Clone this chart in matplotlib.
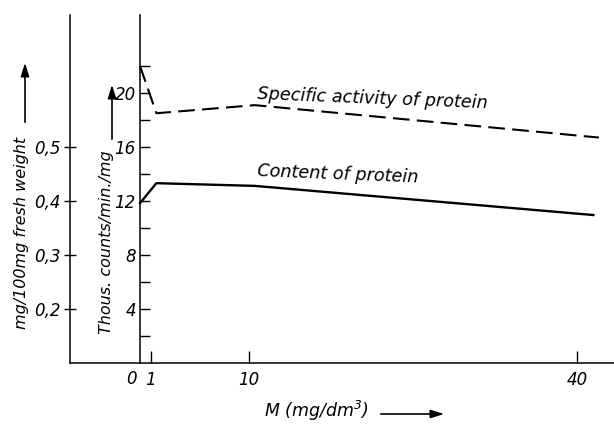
import matplotlib.pyplot as plt
import numpy as np

# data
conc = [0, 1.5, 10.5, 42]                    # M (mg/dm3)
specific_activity = [22.0, 18.5, 19.1, 16.7]  # thous. counts/min/mg
conc_content = [0, 1.5, 10.5, 41.5]
content = [0.396, 0.433, 0.428, 0.374]        # mg/100 mg fresh weight

x_ticks = [1, 10, 40]
count_ticks = [4, 8, 12, 16, 20]
count_minor = [2, 6, 10, 14, 18, 22]
content_ticks = [0.2, 0.3, 0.4, 0.5]

plt.rcParams['font.family'] = 'DejaVu Sans'
plt.rcParams['font.style'] = 'italic'

W, H = 614, 424
fig = plt.figure(figsize=(W / 100, H / 100), dpi=100)

# axes placed in pixels: x=0 at px 140, x=40 at px 577; counts 0 at y 363, 20 at y 93
px_per_x = (577 - 140) / 40
px_per_c = (363 - 93) / 20
left_px = 70
x0, x1 = (left_px - 140) / px_per_x, (614 - 140) / px_per_x
c_top = (363 - 15) / px_per_c
ax = fig.add_axes([left_px / W, 1 - 363 / H, (614 - left_px) / W, (363 - 15) / H])
ax.set_xlim(x0, x1)
ax.set_ylim(0, c_top)

for s in ['top', 'right']:
    ax.spines[s].set_visible(False)
ax.spines['left'].set_position(('data', 0))
for s in ax.spines.values():
    s.set_linewidth(1.1)

ax.set_yticks(count_ticks)
ax.set_yticklabels([str(t) for t in count_ticks], fontsize=12)
ax.set_yticks(count_minor, minor=True)
ax.tick_params(axis='y', which='both', direction='in', length=7, width=1, pad=3)
ax.set_xticks(x_ticks)
ax.set_xticklabels([str(t) for t in x_ticks], fontsize=12)
ax.tick_params(axis='x', direction='in', length=9, width=1, pad=6)
ax.text(-0.25, -0.55, '0', fontsize=12, ha='right', va='top')

# outer axis for protein content
ax2 = ax.twinx()
ax2.set_ylim(0.1, 0.1 + c_top / 40)
for s in ['top', 'right', 'bottom']:
    ax2.spines[s].set_visible(False)
ax2.spines['left'].set_visible(True)
ax2.spines['left'].set_position(('data', x0))
ax2.spines['left'].set_linewidth(1.1)
ax2.yaxis.set_ticks_position('left')
ax2.yaxis.set_label_position('left')
ax2.set_yticks(content_ticks)
ax2.set_yticklabels([f'{t:.1f}'.replace('.', ',') for t in content_ticks], fontsize=12)
ax2.tick_params(axis='y', direction='inout', length=9, width=1, pad=2)

ax.plot(conc, specific_activity, color='black', lw=1.5, ls=(0, (8, 3.5)), clip_on=False)
ax2.plot(conc_content, content, color='black', lw=1.7, clip_on=False)

ax.text(10.7, 18.9, 'Specific activity of protein', fontsize=12.7, rotation=-2.3)
ax.text(10.7, 13.35, 'Content of protein', fontsize=12.7, rotation=-2.3)

# axis titles with arrows (pixel positions from the scan)
fig.text(22 / W, 1 - 233 / H, 'mg/100mg fresh weight', rotation=90, fontsize=11.5,
         ha='center', va='center')
fig.text(106 / W, 1 - 242 / H, 'Thous. counts/min./mg', rotation=90, fontsize=11.5,
         ha='center', va='center')
fig.text(316 / W, 1 - 411 / H, 'M (mg/dm$^3$)', fontsize=12.5, ha='center', va='center')

arrow = dict(arrowstyle='-|>,head_length=0.8,head_width=0.25', color='black', lw=1.2)
ax.annotate('', xy=(25, H - 60), xytext=(25, H - 125), xycoords='figure pixels',
            textcoords='figure pixels', arrowprops=arrow)
ax.annotate('', xy=(112, H - 82), xytext=(112, H - 142), xycoords='figure pixels',
            textcoords='figure pixels', arrowprops=arrow)
ax.annotate('', xy=(447, H - 414), xytext=(378, H - 414), xycoords='figure pixels',
            textcoords='figure pixels', arrowprops=arrow)

fig.savefig('out.png', dpi=100)
